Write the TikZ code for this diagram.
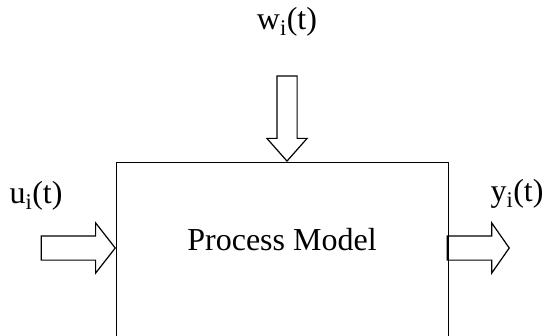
\documentclass[tikz,border=0pt]{standalone}
\usepackage{fontspec}
\setmainfont{Liberation Serif}
\usetikzlibrary{shapes.arrows}

\begin{document}
\begin{tikzpicture}[x=1pt,y=-1pt,
    sig/.style={font=\fontsize{32}{38}\selectfont,inner sep=0pt},
    flow/.style={single arrow,draw,line width=1.2pt,inner xsep=0pt,anchor=tip}]
  \useasboundingbox (0,0) rectangle (544,335);
  \clip (0,0) rectangle (544,335);
  \node[draw,line width=1.4pt,minimum width=332pt,minimum height=250pt,anchor=north west] (model) at (116,162) {};
  \node[sig] (name) at (282,240) {Process Model};
  \node[flow,minimum height=74pt,inner ysep=11.5pt,single arrow head extend=13pt,single arrow tip angle=104] (uarr) at (model.west |- 0,248) {};
  \node[flow,minimum height=62pt,inner ysep=11.5pt,single arrow head extend=13pt,single arrow tip angle=110] (yarr) at (510,248) {};
  \node[flow,minimum height=85pt,inner xsep=9.5pt,inner ysep=0pt,single arrow head extend=10pt,single arrow tip angle=83,shape border rotate=270] (warr) at (287,162) {};
  \node[sig] (u) at (36,196) {u\textsubscript{i}(t)};
  \node[sig] (y) at (517,194) {y\textsubscript{i}(t)};
  \node[sig] (w) at (287,22) {w\textsubscript{i}(t)};
\end{tikzpicture}
\end{document}
